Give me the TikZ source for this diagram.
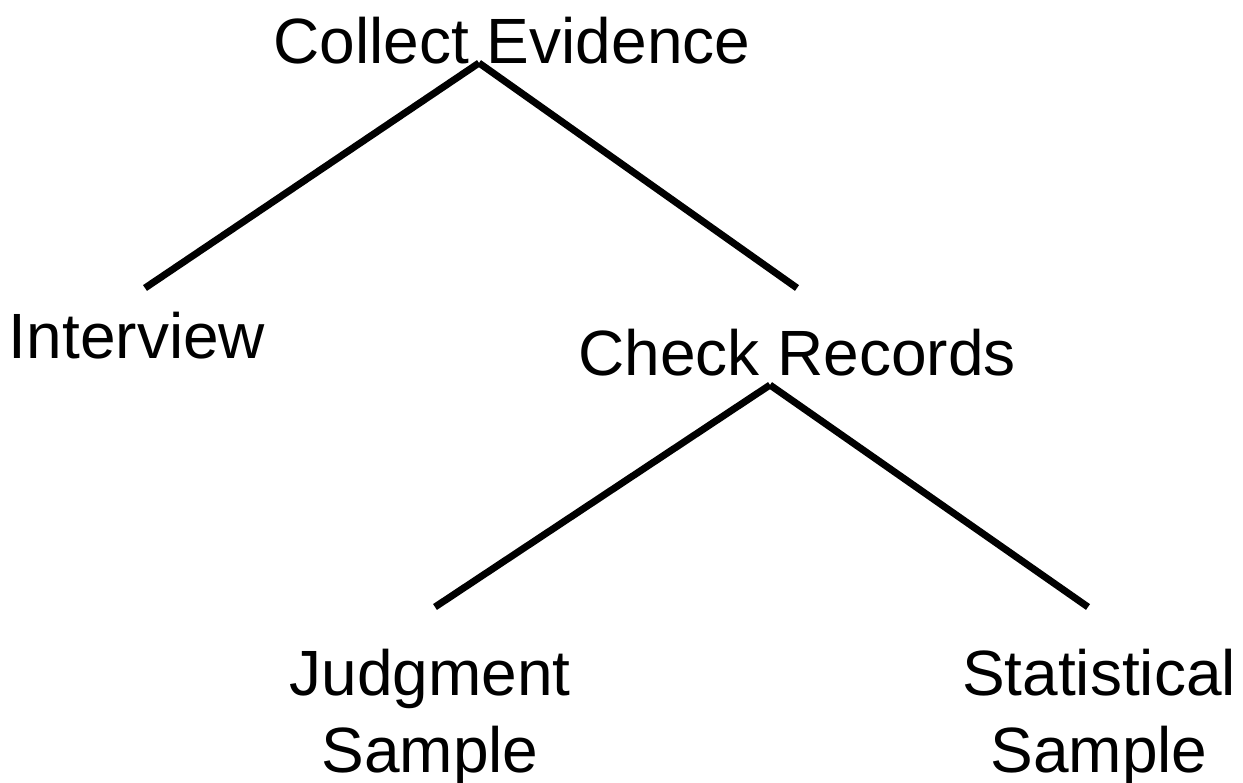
\documentclass[tikz,border=0pt]{standalone}
\usepackage{fontspec}
\setmainfont{Liberation Sans}
\begin{document}
\begin{tikzpicture}[x=1pt,y=-1pt,
  label/.style={inner sep=0pt,anchor=base,align=center,font=\fontsize{64}{77}\selectfont},
  branch/.style={line width=7pt}]
\useasboundingbox (0,0) rectangle (1243,783);
% labels (two-line labels are placed by the baseline of their last line)
\node[label] (ce) at (512,64) {Collect Evidence};
\node[label] (iv) at (137,359) {Interview};
\node[label] (cr) at (797,376) {Check Records};
\node[label] (js) at (430,772) {Judgment\\Sample};
\node[label] (ss) at (1099,772) {Statistical\\Sample};
% branch end points
\coordinate (ceB) at (479,63);
\coordinate (ivT) at (145,288);
\coordinate (crT) at (797,288);
\coordinate (crB) at (770,385);
\coordinate (jsT) at (435,607);
\coordinate (ssT) at (1088,607);
% branches
\draw[branch] (ceB) -- (ivT);
\draw[branch] (ceB) -- (crT);
\draw[branch] (crB) -- (jsT);
\draw[branch] (crB) -- (ssT);
\end{tikzpicture}
\end{document}
